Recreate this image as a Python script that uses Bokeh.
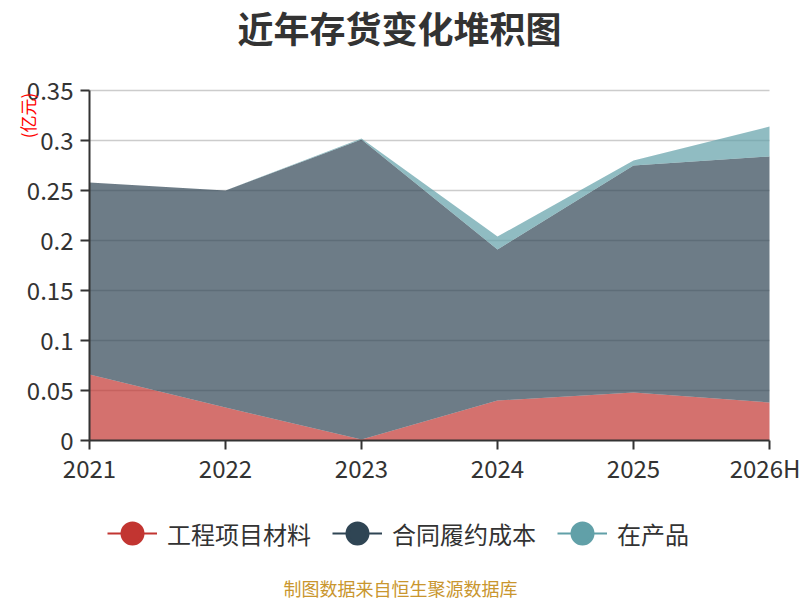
import math
from bokeh.plotting import figure
from bokeh.models import (ColumnDataSource, Range1d, FixedTicker, Legend, LegendItem, Label)
from bokeh.embed import file_html
from bokeh.resources import INLINE

# ---- data ----
years = ["2021", "2022", "2023", "2024", "2025", "2026H"]
material = [0.066, 0.033, 0.001, 0.040, 0.048, 0.038]   # 工程项目材料
contract = [0.192, 0.217, 0.300, 0.151, 0.227, 0.246]   # 合同履约成本
wip = [0.000, 0.000, 0.001, 0.013, 0.005, 0.030]        # 在产品
series_names = ["工程项目材料", "合同履约成本", "在产品"]
y_ticks = [0, 0.05, 0.1, 0.15, 0.2, 0.25, 0.3, 0.35]
y_tick_labels = ["0", "0.05", "0.1", "0.15", "0.2", "0.25", "0.3", "0.35"]

colors = ["#c23531", "#2f4554", "#61a0a8"]
FONT = "Noto Sans CJK SC"

W, H = 800, 600
# pixel geometry of the plotting area inside the canvas
PX_LEFT, PX_RIGHT, PX_TOP, PX_BOTTOM = 89, 769, 90, 440

xs = list(range(len(years)))
x_span = xs[-1] - xs[0]
y_max = y_ticks[-1]
xppu = (PX_RIGHT - PX_LEFT) / x_span
yppu = (PX_BOTTOM - PX_TOP) / y_max
x_start = xs[0] - PX_LEFT / xppu
x_end = xs[-1] + (W - PX_RIGHT) / xppu
y_start = -(H - PX_BOTTOM) / yppu
y_end = y_max + PX_TOP / yppu


def dx(px):
    return x_start + px / xppu


def dy(py):
    return y_end - py / yppu


source = ColumnDataSource(dict(x=xs, material=material, contract=contract, wip=wip))

p = figure(width=W, height=H, output_backend="svg", toolbar_location=None, title=None,
           x_range=Range1d(x_start, x_end), y_range=Range1d(y_start, y_end),
           min_border=0)
p.outline_line_color = None
p.background_fill_color = "white"
p.xgrid.visible = False
p.ygrid.visible = False

# horizontal grid lines (behind the areas)
grid_src = ColumnDataSource(dict(
    x0=[xs[0]] * (len(y_ticks) - 1), x1=[xs[-1]] * (len(y_ticks) - 1), y=y_ticks[1:]))
p.segment(x0="x0", y0="y", x1="x1", y1="y", source=grid_src,
          line_color="#cccccc", line_width=1.3, level="underlay")

p.varea_stack(stackers=["material", "contract", "wip"], x="x", source=source,
              color=colors, fill_alpha=0.7)

# axes
for ax in (p.xaxis[0], p.yaxis[0]):
    ax.fixed_location = 0
    ax.axis_line_color = "#333333"
    ax.axis_line_width = 2
    ax.major_tick_line_color = "#333333"
    ax.major_tick_line_width = 2
    ax.major_tick_in = 0
    ax.major_tick_out = 9
    ax.minor_tick_line_color = None
    ax.major_label_text_font = FONT
    ax.major_label_text_font_size = "24px"
    ax.major_label_text_color = "#333333"

p.xaxis.bounds = (xs[0], xs[-1])
p.xaxis.ticker = FixedTicker(ticks=xs)
p.xaxis.major_label_overrides = {i: years[i] for i in xs}
p.xaxis.major_label_standoff = 0
p.yaxis.bounds = (0, y_max)
p.yaxis.ticker = FixedTicker(ticks=y_ticks)
p.yaxis.major_label_overrides = {t: l for t, l in zip(y_ticks, y_tick_labels)}
p.yaxis.major_label_standoff = 7

# title
p.add_layout(Label(x=dx(399), y=dy(26), text="近年存货变化堆积图", text_align="center",
                   text_baseline="middle", text_font=FONT, text_font_size="36px",
                   text_font_style="bold", text_color="#333333"))
# unit label
p.add_layout(Label(x=dx(27), y=dy(115), text="(亿元)", angle=math.pi / 2, text_align="center",
                   text_baseline="middle", text_font=FONT, text_font_size="17px",
                   text_color="red"))
# footer
p.add_layout(Label(x=dx(400), y=dy(587), text="制图数据来自恒生聚源数据库", text_align="center",
                   text_baseline="middle", text_font=FONT, text_font_size="18px",
                   text_color="#c9962e"))

# legend
nan = float("nan")
items = []
for name, c in zip(series_names, colors):
    dummy = ColumnDataSource(dict(x=[nan], y=[nan]))
    ln = p.line("x", "y", source=dummy, line_color=c, line_width=2)
    sc = p.scatter("x", "y", source=dummy, size=20, fill_color=c, line_color=c, line_width=4)
    items.append(LegendItem(label=name, renderers=[ln, sc]))

legend = Legend(items=items, orientation="horizontal", location=(107, H - 533 - 31),
                glyph_width=50, glyph_height=62, label_standoff=10, spacing=21,
                padding=0, margin=0, border_line_alpha=0, background_fill_alpha=0,
                label_text_font=FONT, label_text_font_size="24px",
                label_text_color="#333333")
p.add_layout(legend, "center")

open("out.html", "w").write(file_html(p, INLINE))
